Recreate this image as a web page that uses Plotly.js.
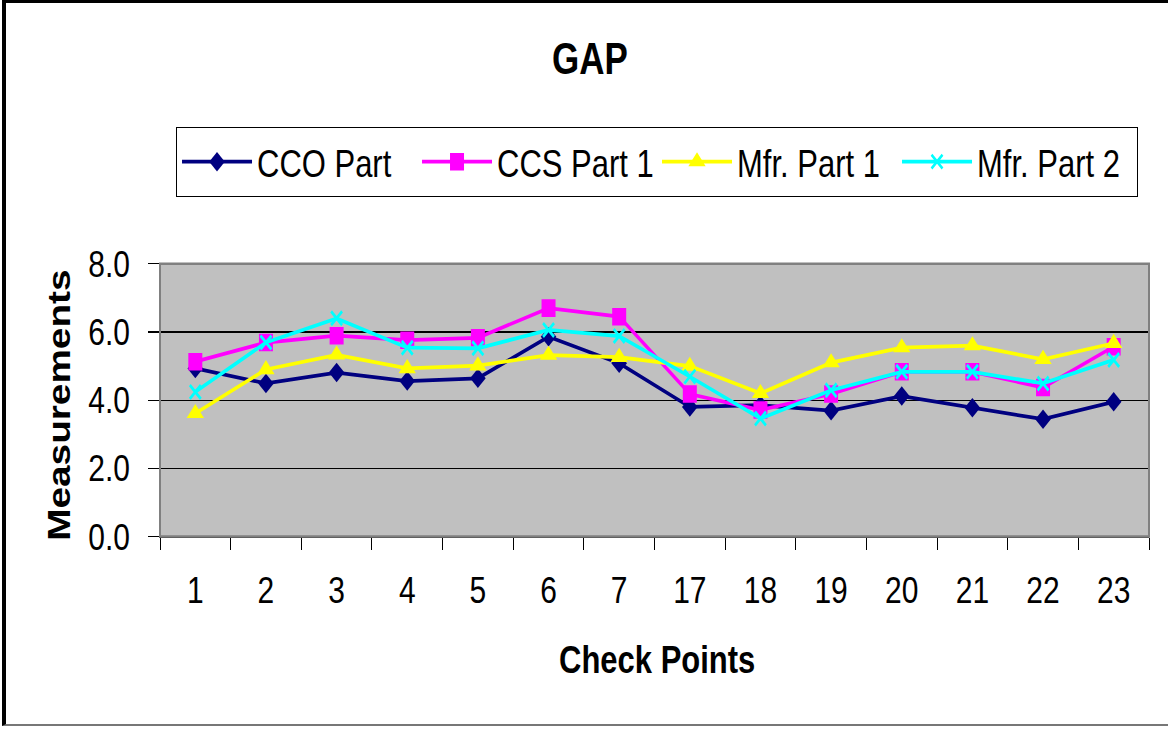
<!DOCTYPE html>
<html>
<head>
<meta charset="utf-8">
<script src="https://cdn.plot.ly/plotly-3.0.1.min.js"></script>
<style>
  html, body { margin: 0; padding: 0; background: #fff; overflow: hidden; }
  #wrap { position: relative; width: 1168px; height: 729px; overflow: hidden; }
  #chart { position: absolute; left: 0; top: 0; width: 1168px; height: 583px;
           transform: scaleY(1.2504); transform-origin: 0 0; }
  #frame { position: absolute; left: 2px; top: 0px; width: 1170px; height: 726px;
           border-left: 4px solid #000; border-top: 3px solid #000; border-bottom: 2px solid #777;
           pointer-events: none; box-sizing: border-box; }
</style>
</head>
<body>
<div id="wrap">
  <div id="chart"></div>
  <div id="frame"></div>
</div>
<script>
// ---- data ----
const checkPoints = ['1','2','3','4','5','6','7','17','18','19','20','21','22','23'];
const ccoPart   = [4.93, 4.49, 4.81, 4.56, 4.64, 5.86, 5.08, 3.80, 3.85, 3.69, 4.12, 3.78, 3.44, 3.95];
const ccsPart1  = [5.13, 5.69, 5.89, 5.76, 5.83, 6.70, 6.45, 4.18, 3.71, 4.18, 4.83, 4.83, 4.37, 5.57];
const mfrPart1  = [3.61, 4.90, 5.33, 4.93, 5.01, 5.32, 5.26, 5.00, 4.20, 5.10, 5.54, 5.60, 5.20, 5.67];
const mfrPart2  = [4.24, 5.69, 6.40, 5.54, 5.52, 6.06, 5.88, 4.69, 3.46, 4.29, 4.83, 4.83, 4.49, 5.18];
const seriesNames = ['CCO Part', 'CCS Part 1', 'Mfr. Part 1', 'Mfr. Part 2'];
const yTickVals = [0, 2, 4, 6, 8];
const yTickText = ['0.0', '2.0', '4.0', '6.0', '8.0'];

const FONT = 'Liberation Sans, Arial, sans-serif';

const traces = [
  { x: checkPoints, y: ccoPart, name: seriesNames[0], type: 'scatter', mode: 'lines+markers',
    line: { color: '#000080', width: 3 },
    marker: { symbol: 'diamond', size: 12, color: '#000080' } },
  { x: checkPoints, y: ccsPart1, name: seriesNames[1], type: 'scatter', mode: 'lines+markers',
    line: { color: '#FF00FF', width: 3 },
    marker: { symbol: 'square', size: 14, color: '#FF00FF' } },
  { x: checkPoints, y: mfrPart1, name: seriesNames[2], type: 'scatter', mode: 'lines+markers',
    line: { color: '#FFFF00', width: 3 },
    marker: { symbol: 'triangle-up', size: 15, color: '#FFFF00' } },
  { x: checkPoints, y: mfrPart2, name: seriesNames[3], type: 'scatter', mode: 'lines+markers',
    line: { color: '#00FFFF', width: 3 },
    marker: { symbol: 'x-thin', size: 11, color: '#00FFFF', line: { color: '#00FFFF', width: 2.5 } } }
];

const layout = {
  width: 1168, height: 583,
  paper_bgcolor: '#ffffff',
  plot_bgcolor: '#C0C0C0',
  margin: { l: 160, r: 19, t: 211, b: 154, autoexpand: false },
  font: { family: FONT, color: '#000' },
  title: { text: 'GAP', font: { family: FONT, size: 35, weight: 'bold', color: '#000' },
           xref: 'container', x: 0.505, xanchor: 'center',
           yref: 'container', y: 0.92, yanchor: 'middle' },
  showlegend: true,
  legend: {
    orientation: 'h', xref: 'container', yref: 'container',
    x: 0.1507, y: 0.8257, xanchor: 'left', yanchor: 'top',
    bgcolor: '#ffffff', bordercolor: '#000', borderwidth: 1,
    font: { family: FONT, size: 31, color: '#000' },
    itemwidth: 70,
    entrywidth: 155, entrywidthmode: 'pixels'
  },
  xaxis: {
    type: 'category', automargin: false, range: [-0.5, 13.5], autorange: false,
    tickson: 'boundaries', ticks: 'outside', ticklen: 10, tickcolor: '#000', tickwidth: 1,
    showline: true, linecolor: '#000', linewidth: 1,
    showgrid: false, zeroline: false,
    tickfont: { family: FONT, size: 30, color: '#000' },
    ticklabelstandoff: 16
  },
  yaxis: {
    range: [0, 8], autorange: false, automargin: false,
    tickvals: yTickVals, ticktext: yTickText,
    ticks: 'outside', ticklen: 11, tickcolor: '#000', tickwidth: 1,
    showline: true, linecolor: '#000', linewidth: 1,
    showgrid: true, gridcolor: '#000', gridwidth: 1, zeroline: false,
    tickfont: { family: FONT, size: 30, color: '#000' },
    ticklabelstandoff: 12
  },
  shapes: [
    { type: 'rect', xref: 'paper', yref: 'paper', x0: 0, x1: 1, y0: 0, y1: 1,
      line: { color: '#808080', width: 2 }, layer: 'above' }
  ],
  annotations: [
    { text: 'Check Points', xref: 'paper', yref: 'paper', x: 0.5025, y: -0.451,
      xanchor: 'center', yanchor: 'middle', showarrow: false,
      font: { family: FONT, size: 31, weight: 'bold', color: '#000' } },
    { text: 'Measurements', xref: 'paper', yref: 'paper', x: -0.1016, y: 0.4816,
      xanchor: 'center', yanchor: 'middle', showarrow: false, textangle: -90,
      font: { family: FONT, size: 31, weight: 'bold', color: '#000' } }
  ]
};

Plotly.newPlot('chart', traces, layout, { displayModeBar: false, staticPlot: true });
</script>
</body>
</html>
